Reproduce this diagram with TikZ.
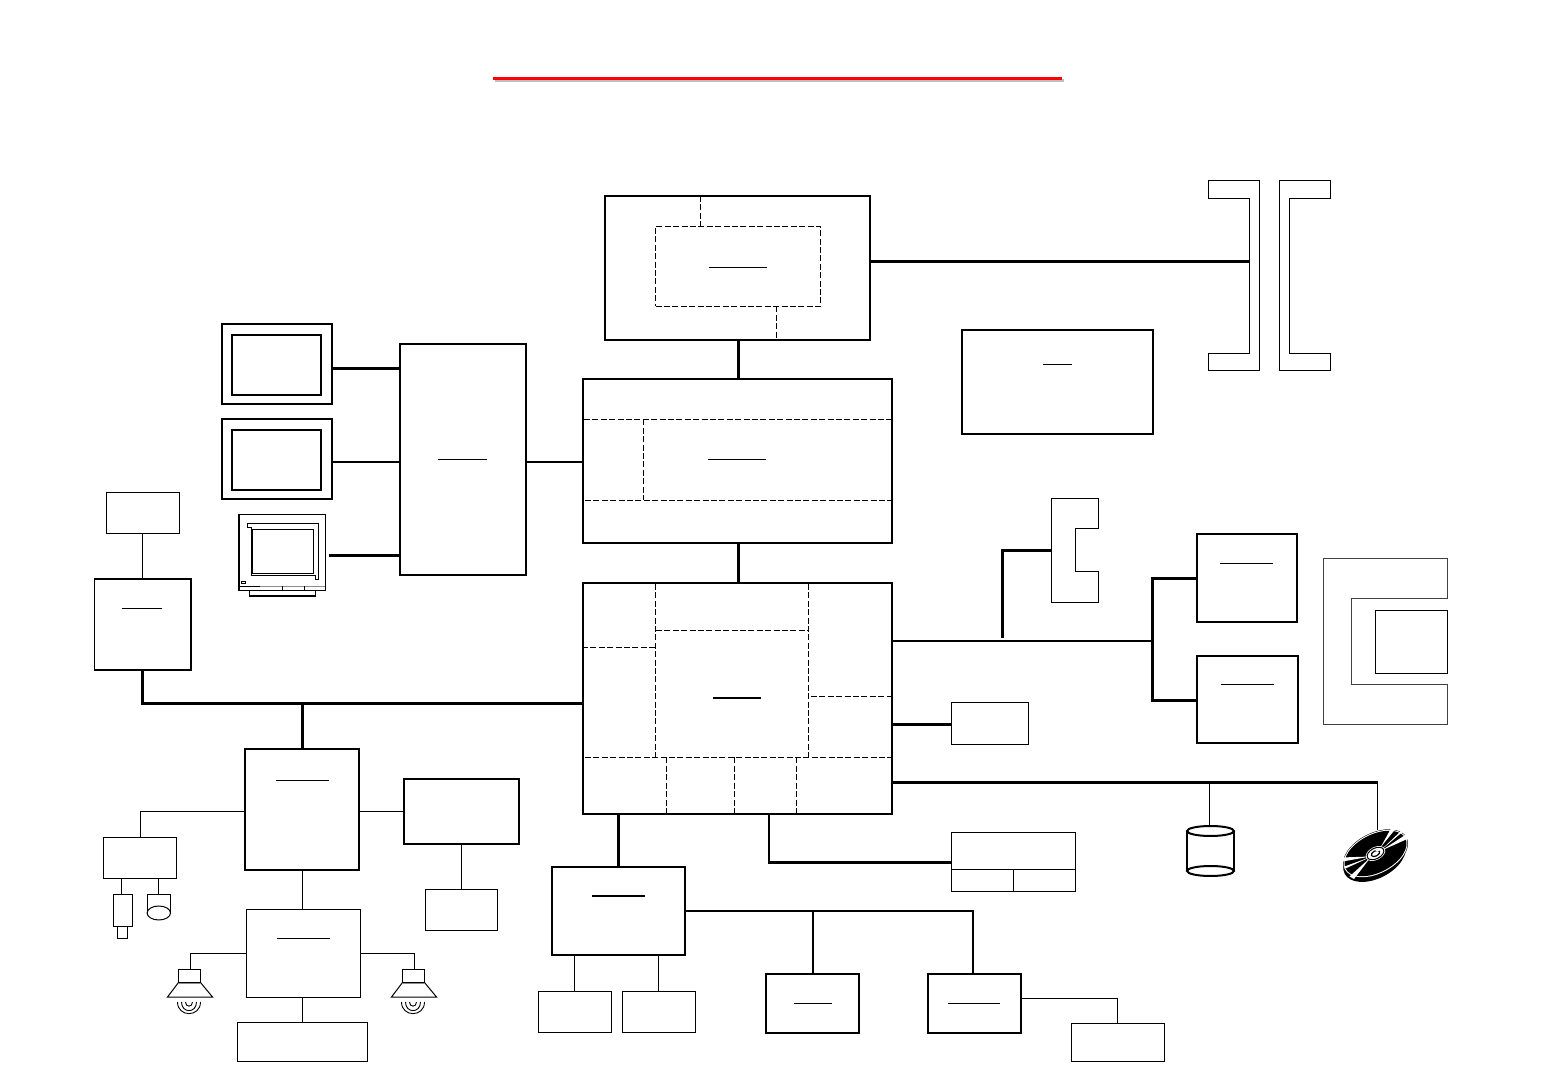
\documentclass[tikz,border=0pt]{standalone}
\usetikzlibrary{calc}
\newcommand\bx[6][]{%
  \pgfmathsetmacro\cxx{(#3+#5)/2}\pgfmathsetmacro\cyy{(#4+#6)/2}%
  \pgfmathsetmacro\ww{(#5-#3)*0.5}\pgfmathsetmacro\hh{(#6-#4)*0.5}%
  \node[rectangle,draw,fill=white,inner sep=0pt,outer sep=0pt,thinl,minimum width=\ww pt,minimum height=\hh pt,#1] (#2) at (\cxx,\cyy) {};}
\newcommand\hc[4][thinl]{\draw[#1] (#2 |- 0,#4) -- (#3 |- 0,#4);}
\newcommand\vc[4][thinl]{\draw[#1] (#4,0 |- #2) -- (#4,0 |- #3);}
\tikzset{
  thinl/.style={line width=0.5pt},
  midl/.style={line width=1pt},
  busl/.style={line width=1.5pt},
  heavybox/.style={line width=1pt},
  dashl/.style={line width=0.5pt,dash pattern=on 3pt off 1.2pt},
  rule/.style={line width=0.5pt},
}
\begin{document}
\begin{tikzpicture}[x=0.5pt,y=-0.5pt,line join=miter]
\useasboundingbox (0,0) rectangle (1560,1080);
\fill[white] (0,0) rectangle (1560,1080);
% title rule
\fill[black!25] (495,79) rectangle (1064,82);
\fill[red] (493,77) rectangle (1062,80);

% CPU block
\bx[heavybox]{cpu}{605}{196}{870}{340}
\bx[dashl]{cpuin}{655.5}{226.5}{820.5}{306.5}
\draw[dashl] (700.5,0 |- cpu.north) -- (700.5,0 |- cpuin.north);
\draw[dashl] (776.5,0 |- cpuin.south) -- (776.5,0 |- cpu.south);
\draw[rule] (709,267.5) -- (767,267.5);

% memory slots
\draw[thinl] (1208.5,180.5) -- (1259.5,180.5) -- (1259.5,370.5) -- (1208.5,370.5) -- (1208.5,353.5) -- (1249.5,353.5) -- (1249.5,198.5) -- (1208.5,198.5) -- cycle;
\draw[thinl] (1279.5,180.5) -- (1330.5,180.5) -- (1330.5,198.5) -- (1289.5,198.5) -- (1289.5,353.5) -- (1330.5,353.5) -- (1330.5,370.5) -- (1279.5,370.5) -- cycle;
\coordinate (slotA) at (1249.5,261.5);
\draw[busl] (cpu.east |- slotA) -- (slotA);

% note box
\bx[heavybox]{note}{962}{330}{1153}{434}
\draw[rule] (1043,364.5) -- (1072,364.5);

% north bridge
\bx[heavybox]{nb}{583}{379}{892}{543}
\draw[dashl] (584,419.5) -- (891,419.5);
\draw[dashl] (585,500.5) -- (891,500.5);
\draw[dashl] (643.5,419.5) -- (643.5,500.5);
\draw[rule] (708,459.5) -- (766,459.5);

% south bridge
\bx[heavybox]{sb}{583}{583}{892}{814}
\draw[dashl] (655.5,584) -- (655.5,757);
\draw[dashl] (582,647.5) -- (656,647.5);
\draw[dashl] (808.5,584) -- (808.5,757);
\draw[dashl] (656,630.5) -- (808,630.5);
\draw[dashl] (811,696.5) -- (891,696.5);
\draw[dashl] (585,757.5) -- (891,757.5);
\draw[dashl] (666.5,757.5) -- (666.5,816);
\draw[dashl] (734.5,757.5) -- (734.5,814);
\draw[dashl] (796.5,757.5) -- (796.5,814);
\draw[midl] (713,698) -- (761,698);

\vc[busl]{cpu.south}{nb.north}{738.5}
\vc[busl]{nb.south}{sb.north}{738.5}

% graphics
\bx[heavybox]{gpu}{400}{344}{526}{575}
\draw[rule] (438,459.5) -- (487,459.5);
\hc[midl]{gpu.east}{nb.west}{462}

\bx[heavybox]{monA}{222}{324}{332}{404}
\bx[heavybox]{monAin}{232}{335}{321}{395}
\bx[heavybox]{monB}{222}{419}{332}{499}
\bx[heavybox]{monBin}{232}{430}{321}{490}
\hc[busl]{monA.east}{gpu.west}{368.5}
\hc[midl]{monB.east}{gpu.west}{462}

% CRT icon
\draw[thinl] (239,514.5) -- (325.5,514.5) -- (325.5,590.5) -- (239,590.5);
\draw[line width=0.75pt] (239,514) -- (239,591);
\draw[thinl] (247.5,523.5) -- (318.5,523.5) -- (318.5,579.5) -- (315.5,579.5) -- (315.5,575.5) -- (251.5,575.5) -- (251.5,527.5) -- (247.5,527.5) -- cycle;
\draw[thinl] (252.5,529.5) rectangle (313.5,573.5);
\draw[thinl] (241.5,581.5) rectangle (245.5,583.5);
\draw[thinl] (240,586.5) -- (260,586.5);
\draw[line width=0.5pt,black!45] (260,586.5) -- (325,586.5);
\draw[thinl] (282.5,586.5) -- (282.5,590) (304.5,586.5) -- (304.5,590);
\draw[thinl] (249.5,590.5) -- (249.5,596) (315.5,590.5) -- (315.5,596);
\draw[midl] (249,596) -- (316,596);
\coordinate (crtR) at (329,555.5);
\hc[busl]{crtR}{gpu.west}{555.5}

% LAN block
\bx{rjsmall}{106.5}{492.5}{179.5}{533.5}
\bx[line width=0.75pt]{lan}{94.5}{579}{191}{670}
\draw[rule] (122,608.5) -- (162,608.5);
\vc{rjsmall.south}{lan.north}{142.5}
\coordinate (hubA) at (142.5,703.5);
\coordinate (hubB) at (302.5,703.5);
\draw[busl] (lan.south -| hubA) -- (hubA) -- (sb.west |- hubA);
\draw[busl] (hubB) -- (302.5,749);

% audio
\bx[heavybox]{aud}{245}{749}{359}{870}
\draw[rule] (276,780.5) -- (329,780.5);
\bx[heavybox]{modem}{404}{779}{519}{844}
\hc{aud.east}{modem.west}{811.5}
\bx{rjtwo}{425.5}{889.5}{497.5}{930.5}
\vc{modem.south}{rjtwo.north}{461.5}
\bx{jack}{103.5}{837.5}{176.5}{878.5}
\draw[thinl] (aud.west |- 0,811.5) -- (140.5,811.5) -- (140.5,0 |- jack.north);
\bx{micbody}{113.5}{894.5}{132.5}{926.5}
\bx{micplug}{117.5}{926.5}{127.5}{938.5}
\vc{jack.south}{micbody.north}{121.5}
\coordinate (phoneTop) at (158.5,894.5);
\vc{jack.south}{phoneTop}{158.5}
\draw[thinl] (147,913) -- (147,894.5) -- (170.5,894.5) -- (170.5,913);
\draw[thinl] (158.8,913) ellipse (11.7 and 7);
\bx{amp}{246.5}{909.5}{360.5}{997.5}
\draw[rule] (277,938.5) -- (330,938.5);
\vc{aud.south}{amp.north}{302.5}
\bx{line}{237.5}{1022.5}{367.5}{1061.5}
\vc{amp.south}{line.north}{302.5}

% speakers
\foreach \dx/\nm in {0/spkL,224/spkR}{
  \begin{scope}[xshift=\dx*0.5pt]
  \draw[thinl,fill=white] (178.5,969.5) rectangle (200.5,982.5);
  \draw[thinl] (178.5,982.5) -- (167.5,997) -- (212.5,997) -- (200.5,982.5);
  \draw[line width=0.5pt,black!45] (178.5,983) -- (200.5,983);
  \draw[line width=0.45pt] (177.5,1002) .. controls (177.5,1017.5) and (200.5,1017.5) .. (200.5,1002);
  \draw[line width=0.45pt] (181.5,1002) .. controls (181.5,1013.5) and (196.5,1013.5) .. (196.5,1002);
  \draw[line width=0.45pt] (185.5,1002) .. controls (185.5,1007.5) and (192.5,1007.5) .. (192.5,1002);
  \end{scope}}
\coordinate (spkLt) at (190.5,969.5);
\coordinate (spkRt) at (414.5,969.5);
\draw[thinl] (amp.west |- 0,953.5) -- (190.5,953.5) -- (spkLt);
\draw[thinl] (amp.east |- 0,953.5) -- (414.5,953.5) -- (spkRt);

% USB / right side
\bx[heavybox]{cardA}{1197}{534}{1297}{622}
\draw[rule] (1220,563.5) -- (1273,563.5);
\bx[heavybox]{cardB}{1197}{656}{1298}{743}
\draw[rule] (1221,684.5) -- (1274,684.5);
\coordinate (bj) at (1152.5,641);
\draw[midl] (sb.east |- bj) -- (bj);
\draw[busl,line join=miter] (cardA.west |- 0,578.5) -- (1152.5,578.5) -- (1152.5,700.5) -- (cardB.west |- 0,700.5);

% Card slot
\draw[thinl] (1051.5,498.5) -- (1098.5,498.5) -- (1098.5,528.5) -- (1075.5,528.5) -- (1075.5,571.5) -- (1098.5,571.5) -- (1098.5,602.5) -- (1051.5,602.5) -- cycle;
\coordinate (slotB) at (1051.5,550.5);
\draw[busl] (1002.5,638.5) -- (1002.5,550.5) -- (slotB);

% big C slot
\draw[thinl,black!75] (1323.5,558.5) -- (1447.5,558.5) -- (1447.5,598.5) -- (1351.5,598.5) -- (1351.5,684.5) -- (1447.5,684.5) -- (1447.5,724.5) -- (1323.5,724.5) -- cycle;
\bx{pcin}{1375.5}{610.5}{1447.5}{673.5}

% small box
\bx{kbc}{951.5}{702.5}{1028.5}{744.5}
\hc[busl]{sb.east}{kbc.west}{724.5}

% IDE bus
\coordinate (busEnd) at (1377.5,782.5);
\coordinate (hddT) at (1209.5,826);
\coordinate (cdT) at (1377.5,830);
\draw[busl] (sb.east |- busEnd) -- (1378,782.5);
\draw[thinl] (1209.5,782.5) -- (hddT);
\draw[thinl] (busEnd) -- (cdT);
% HDD
\draw[midl] (1187,831) -- (1187,871) (1234,831) -- (1234,871);
\draw[midl] (1210.5,831) ellipse (23.5 and 5);
\draw[midl] (1210.5,871) ellipse (23.5 and 5);
% CD
\begin{scope}[shift={(1375.5,853.5)}]
  \begin{scope}[rotate=27]
    \fill[black] (0,0) ellipse (35 and 20.5);
  \end{scope}
  \begin{scope}[shift={(-1,5)},rotate=27]
    \fill[black] (0,0) ellipse (33.5 and 20);
  \end{scope}
  \begin{scope}[rotate=27]
    \fill[white] (0,0) ellipse (34.5 and 20);
    \fill[black] (0,0) ellipse (33.5 and 19);
  \end{scope}
  \begin{scope}
    \begin{scope}[rotate=27] \clip (0,0) ellipse (33.5 and 19); \end{scope}
    \fill[white] (5,-6) -- (16,-26) -- (19.5,-24) -- cycle;
    \fill[white] (6,-3) -- (32,-20) -- (34,-15.5) -- cycle;
    \fill[white] (5,-3) -- (26,-23) -- (27.5,-22) -- cycle;
    \fill[white] (-5,3) -- (-34,4) -- (-33,8) -- cycle;
    \fill[white] (-5,4) -- (-26,23) -- (-21.5,25.5) -- cycle;
    \fill[white] (-5,3.5) -- (-31,13) -- (-30,15) -- cycle;
  \end{scope}
  \begin{scope}[rotate=27]
    \fill[white] (0,0) ellipse (10.5 and 6.5);
    \draw[line width=0.5pt] (0,0) ellipse (9 and 5.3);
    \draw[line width=0.6pt] (0,0) ellipse (4.5 and 2.6);
    \draw[white,line width=0.5pt] (1.5,-2.5) -- (4.5,-1.2);
  \end{scope}
\end{scope}

% ISA/bottom
\bx{pcie}{951.5}{832.5}{1075.5}{891.5}
\draw[thinl] (951.5,869.5) -- (1075.5,869.5);
\draw[thinl] (1013.5,869.5) -- (1013.5,891);
\draw[midl] (768.5,0 |- sb.south) -- (768.5,862);
\draw[busl] (767.5,862) -- (pcie.west |- 0,862);

\bx[heavybox]{usb}{552}{867}{685}{955}
\draw[midl] (592,896) -- (645,896);
\vc[busl]{sb.south}{usb.north}{618.5}
\bx{ua}{538.5}{991.5}{611.5}{1032.5}
\bx{ub}{622.5}{991.5}{695.5}{1032.5}
\vc{usb.south}{ua.north}{574.5}
\vc{usb.south}{ub.north}{658.5}
\bx[heavybox]{da}{766}{974}{859}{1033}
\draw[rule] (794,1003.5) -- (832,1003.5);
\bx[heavybox]{db}{928}{974}{1021}{1033}
\draw[rule] (948,1003.5) -- (1000,1003.5);
\draw[midl] (usb.east |- 0,911) -- (973,911) -- (973,0 |- db.north);
\draw[midl] (813,911) -- (813,0 |- da.north);
\bx{dc}{1071.5}{1023.5}{1164.5}{1061.5}
\draw[thinl] (db.east |- 0,998.5) -- (1117.5,998.5) -- (1117.5,0 |- dc.north);
\end{tikzpicture}
\end{document}
